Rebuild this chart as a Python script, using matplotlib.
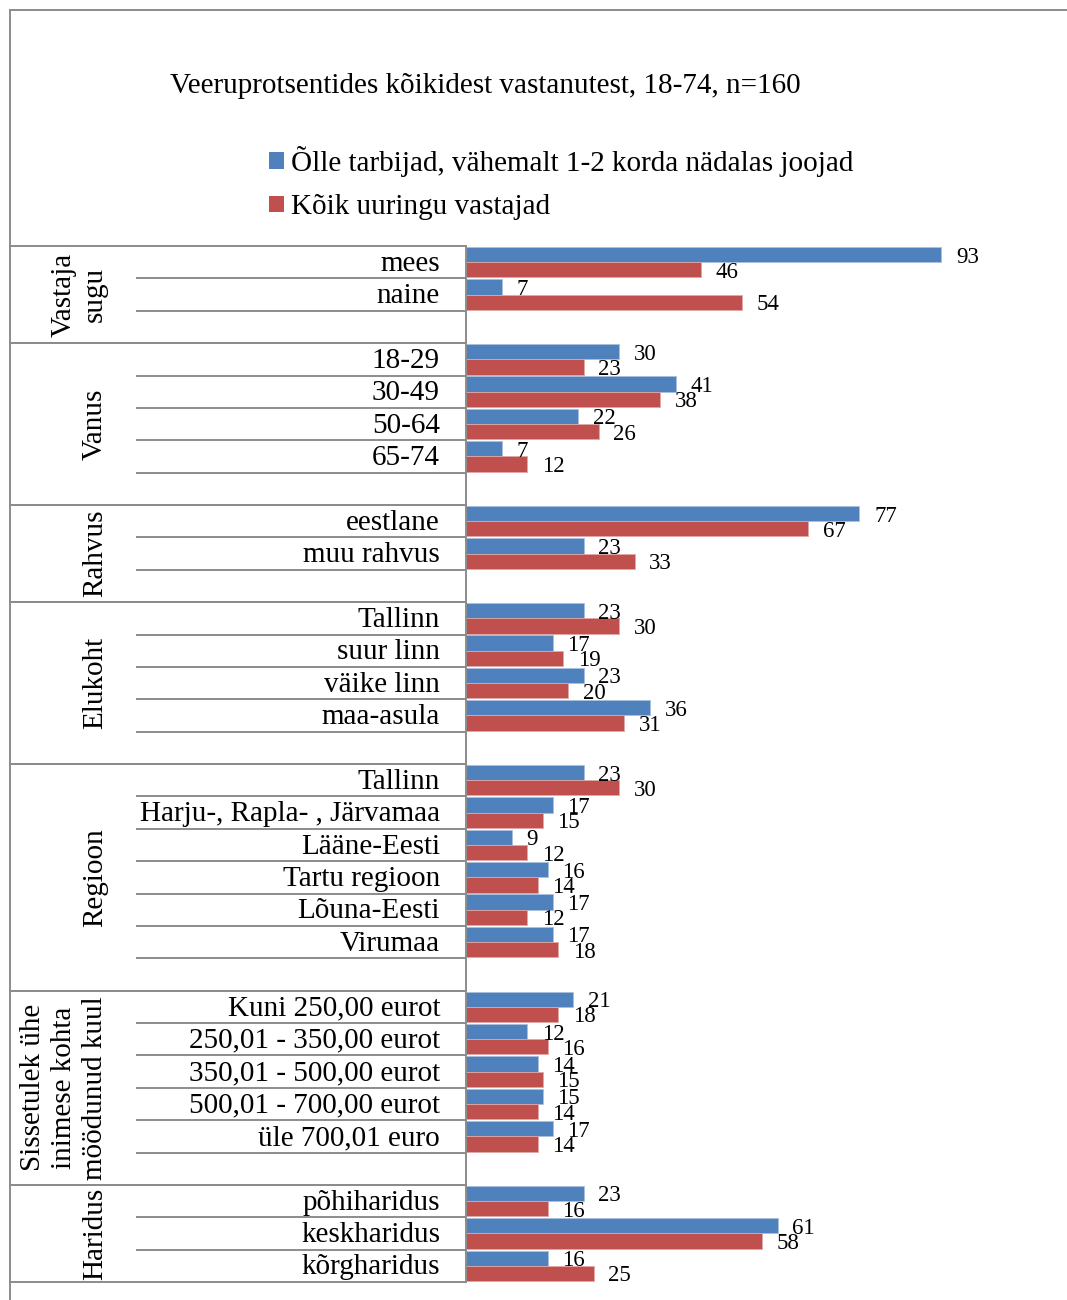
import matplotlib
matplotlib.use("Agg")
import matplotlib.pyplot as plt
from matplotlib.patches import Patch
from matplotlib.lines import Line2D
from matplotlib.transforms import blended_transform_factory

plt.rcParams["font.family"] = ["Liberation Serif", "DejaVu Serif"]

# Survey breakdown (column percentages)
groups = [
    "Vastaja\nsugu",
    "Vanus",
    "Rahvus",
    "Elukoht",
    "Regioon",
    "Sissetulek ühe\ninimese kohta\nmöödunud kuul",
    "Haridus",
]
categories = [
    ["mees", "naine"],
    ["18-29", "30-49", "50-64", "65-74"],
    ["eestlane", "muu rahvus"],
    ["Tallinn", "suur linn", "väike linn", "maa-asula"],
    ["Tallinn", "Harju-, Rapla- , Järvamaa", "Lääne-Eesti", "Tartu regioon",
     "Lõuna-Eesti", "Virumaa"],
    ["Kuni 250,00 eurot", "250,01 - 350,00 eurot", "350,01 - 500,00 eurot",
     "500,01 - 700,00 eurot", "üle 700,01 euro"],
    ["põhiharidus", "keskharidus", "kõrgharidus"],
]
beer_drinkers = [
    [93, 7],
    [30, 41, 22, 7],
    [77, 23],
    [23, 17, 23, 36],
    [23, 17, 9, 16, 17, 17],
    [21, 12, 14, 15, 17],
    [23, 61, 16],
]
all_respondents = [
    [46, 54],
    [23, 38, 26, 12],
    [67, 33],
    [30, 19, 20, 31],
    [30, 15, 12, 14, 12, 18],
    [18, 16, 15, 14, 14],
    [16, 58, 25],
]
series_names = ["Õlle tarbijad, vähemalt 1-2 korda nädalas joojad",
                "Kõik uuringu vastajad"]
title = "Veeruprotsentides kõikidest vastanutest, 18-74, n=160"

BLUE = "#4F81BD"
RED = "#C0504D"
GRID = "#8C8C8C"
FS = 21

W, H = 1067, 1300
fig = plt.figure(figsize=(W / 100, H / 100), dpi=100)

def fx(px):
    return px / W

def fy(py):
    return 1 - py / H

# slot layout: each group gets its categories plus an empty slot (except the last)
rows = []          # (slot index, label, blue, red)
group_spans = []   # (start slot, end slot)
slot = 0
for gi, cats in enumerate(categories):
    start = slot
    for ci, c in enumerate(cats):
        rows.append((slot, c, beer_drinkers[gi][ci], all_respondents[gi][ci]))
        slot += 1
    if gi < len(categories) - 1:
        slot += 1
    group_spans.append((start, slot))
n_slots = slot

ax_left, ax_right, ax_top, ax_bottom = 466, 977, 246, 1282
ax = fig.add_axes([fx(ax_left), fy(ax_bottom), fx(ax_right - ax_left),
                   (ax_bottom - ax_top) / H])
ax.set_xlim(0, 100)
ax.set_ylim(n_slots, 0)
for s in ["top", "right", "bottom"]:
    ax.spines[s].set_visible(False)
ax.spines["left"].set_color(GRID)
ax.spines["left"].set_linewidth(1.4)
ax.set_xticks([])
ax.set_yticks([])

bar_h = 0.47
ys = [r[0] for r in rows]
blue_vals = [r[2] for r in rows]
red_vals = [r[3] for r in rows]
ax.barh([y + 0.265 for y in ys], blue_vals, height=bar_h, color=BLUE,
        edgecolor="#A9C0DE", linewidth=0.6)
ax.barh([y + 0.735 for y in ys], red_vals, height=bar_h, color=RED,
        edgecolor="#E0A8A6", linewidth=0.6)

for y, b, r in zip(ys, blue_vals, red_vals):
    ax.annotate(str(b), (b, y + 0.265), xytext=(10.5, 0),
                textcoords="offset points", ha="left", va="center_baseline",
                fontsize=16.5, color="black", annotation_clip=False)
    ax.annotate(str(r), (r, y + 0.735), xytext=(10.5, 0),
                textcoords="offset points", ha="left", va="center_baseline",
                fontsize=16.5, color="black", annotation_clip=False)

# category axis: x in figure fraction, y in slot units
tr = blended_transform_factory(fig.transFigure, ax.transData)

for y, lab, _, _ in rows:
    fig.text(fx(440), y + 0.55, lab, transform=tr, ha="right",
             va="center", fontsize=FS)

for gi, (g0, g1) in enumerate(group_spans):
    n_cat = len(categories[gi])
    # inner separators below each category
    for k in range(g0 + 1, g0 + n_cat + 1):
        if k == g1:
            continue
        fig.add_artist(Line2D([fx(137), fx(ax_left)], [k, k], transform=tr,
                              color=GRID, lw=1.4))
    for k in (g0, g1):
        fig.add_artist(Line2D([fx(10), fx(ax_left)], [k, k], transform=tr,
                              color=GRID, lw=1.4))
    fig.text(fx(108), (g0 + g1) / 2, groups[gi], transform=tr,
             rotation=90, ha="right", va="center", fontsize=FS,
             linespacing=1.25, multialignment="center")

# outer frame of the chart area
fig.add_artist(Line2D([fx(10), 1], [fy(10), fy(10)], color=GRID, lw=1.4))
fig.add_artist(Line2D([fx(10), fx(10)], [0, fy(10)], color=GRID, lw=1.4))

fig.text(fx(170), fy(86), title, ha="left", va="center", fontsize=FS)

handles = [Patch(facecolor=BLUE, edgecolor="none"),
           Patch(facecolor=RED, edgecolor="none")]
fig.legend(handles, series_names, loc="upper left",
           bbox_to_anchor=(fx(269), fy(146)), frameon=False, fontsize=FS,
           handlelength=0.5, handleheight=0.5, handletextpad=0.25,
           labelspacing=0.6, borderaxespad=0, borderpad=0)

fig.savefig("out.png", dpi=100)
